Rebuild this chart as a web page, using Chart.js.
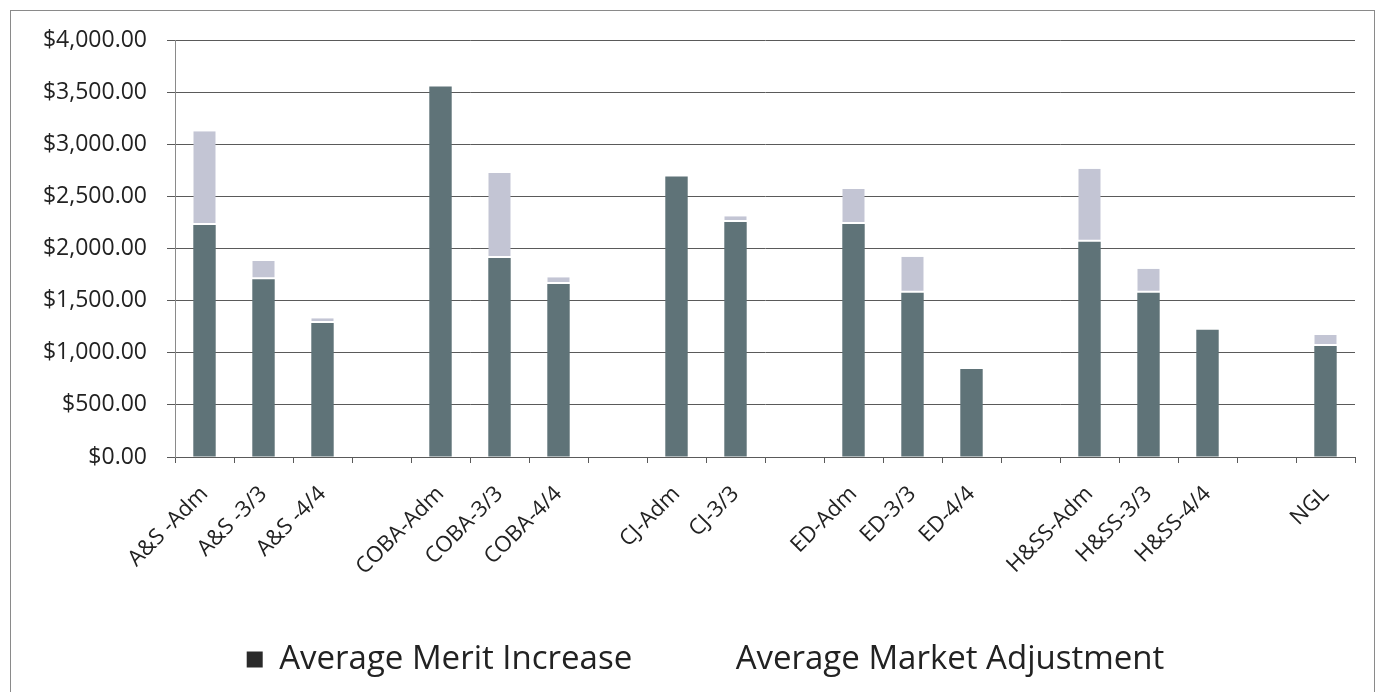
<!DOCTYPE html>
<html>
<head>
<meta charset="utf-8">
<script src="https://cdn.jsdelivr.net/npm/chart.js@4.4.1/dist/chart.umd.min.js"></script>
<style>
    html, body { margin: 0; padding: 0; background: #fff; }
    #wrap { position: relative; width: 1387px; height: 692px; }
    #frame { position: absolute; left: 10px; top: 10px; right: 12px; bottom: -2px; border: 1px solid #8a8a8a; border-bottom: none; pointer-events: none; }
</style>
</head>
<body>
<div id="wrap">
    <canvas id="meritChart" width="1387" height="692"></canvas>
    <div id="frame"></div>
</div>
<script>
// categories (blank entries are the gaps between colleges)
var categories = ['A&S -Adm', 'A&S -3/3', 'A&S -4/4', '',
    'COBA-Adm', 'COBA-3/3', 'COBA-4/4', '',
    'CJ-Adm', 'CJ-3/3', '',
    'ED-Adm', 'ED-3/3', 'ED-4/4', '',
    'H&SS-Adm', 'H&SS-3/3', 'H&SS-4/4', '',
    'NGL'];

var meritIncrease = [2225, 1705, 1285, null,
    3555, 1910, 1660, null,
    2690, 2255, null,
    2235, 1575, 845, null,
    2065, 1575, 1220, null,
    1065];

var marketAdjustment = [900, 175, 45, null,
    0, 815, 65, null,
    0, 55, null,
    335, 345, 0, null,
    700, 230, 0, null,
    105];

var yTicks = [0, 500, 1000, 1500, 2000, 2500, 3000, 3500, 4000];

function money(v) {
    return '$' + v.toLocaleString('en-US', { minimumFractionDigits: 2, maximumFractionDigits: 2 });
}

var fontName = "'Open Sans', 'Liberation Sans', sans-serif";

// legend sits a little right of centre in the original
var legendNudge = {
    id: 'legendNudge',
    afterLayout: function (chart) {
        chart.legend.left += 28;
        chart.legend.right += 28;
    }
};

var ctx = document.getElementById('meritChart').getContext('2d');

var myChart = new Chart(ctx, {
    type: 'bar',
    data: {
        labels: categories,
        datasets: [{
            label: 'Average Merit Increase',
            data: meritIncrease,
            backgroundColor: '#5f7378',
            borderWidth: 0
        }, {
            label: 'Average Market Adjustment',
            data: marketAdjustment,
            backgroundColor: '#c3c5d4',
            borderColor: '#ffffff',
            borderWidth: { bottom: 2, top: 0, left: 0, right: 0 },
            borderSkipped: false
        }]
    },
    options: {
        responsive: false,
        animation: false,
        layout: { padding: { left: 0, right: 32, top: 40, bottom: 6 } },
        datasets: {
            bar: { categoryPercentage: 1.0, barPercentage: 0.38 }
        },
        scales: {
            x: {
                stacked: true,
                offset: true,
                border: { color: '#5a5a5a' },
                grid: { offset: true, drawOnChartArea: false, drawTicks: true, tickLength: 6, color: '#5a5a5a' },
                ticks: {
                    autoSkip: false,
                    maxRotation: 45,
                    minRotation: 45,
                    color: '#222',
                    padding: 18,
                    font: { family: fontName, size: 22 }
                },
                afterFit: function (axis) {
                    // the rotated labels run down into the legend band, so don't clip them
                    axis.height = 115;
                    axis._computeLabelArea = function () { return undefined; };
                }
            },
            y: {
                stacked: true,
                min: 0,
                max: 4000,
                afterBuildTicks: function (axis) {
                    axis.ticks = yTicks.map(function (v) { return { value: v }; });
                },
                afterFit: function (axis) { axis.width = 175; },
                border: { color: '#8a8a8a' },
                grid: { color: '#5a5a5a', tickLength: 8 },
                ticks: {
                    color: '#222',
                    padding: 20,
                    font: { family: fontName, size: 23 },
                    callback: function (v) { return money(v); }
                }
            }
        },
        plugins: {
            tooltip: { enabled: false },
            legend: {
                position: 'bottom',
                labels: {
                    color: '#222',
                    boxWidth: 16,
                    boxHeight: 16,
                    padding: 71,
                    font: { family: fontName, size: 33 },
                    generateLabels: function (chart) {
                        var items = Chart.defaults.plugins.legend.labels.generateLabels(chart);
                        items[0].fillStyle = '#2a2a2a';
                        items[0].strokeStyle = '#2a2a2a';
                        items[1].fillStyle = '#ffffff';
                        items[1].strokeStyle = '#ffffff';
                        items[1].lineWidth = 0;
                        return items;
                    }
                }
            }
        }
    },
    plugins: [legendNudge]
});
</script>
</body>
</html>
